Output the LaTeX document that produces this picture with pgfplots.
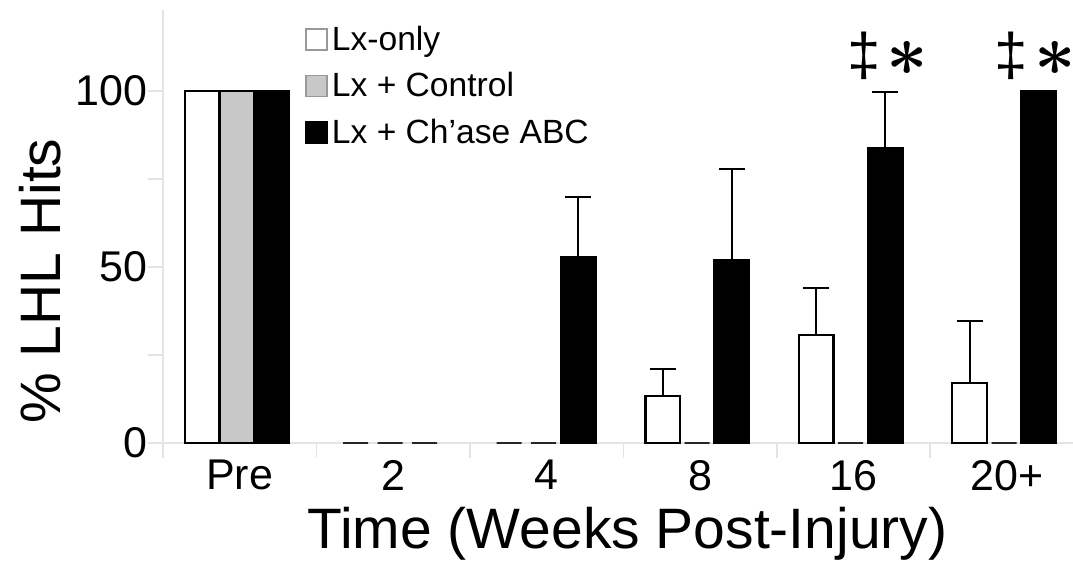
\documentclass[border=0pt]{standalone}
\usepackage{fontspec}
\setmainfont{Liberation Sans}
\usepackage{pgfplots}
\pgfplotsset{compat=1.18}
\definecolor{barg}{RGB}{200,200,200}
\definecolor{axg}{RGB}{228,228,228}
\begin{document}
\begin{tikzpicture}
\begin{axis}[
  scale only axis, width=455pt, height=216.5pt,
  xmin=-0.5, xmax=5.43, ymin=0, ymax=123,
  axis x line*=bottom, axis y line*=left,
  axis line style={draw=axg, line width=0.8pt, -},
  xtick pos=left, ytick pos=left,
  tick align=outside,
  major tick length=7.5pt, minor tick length=7.5pt,
  tick style={draw=axg, line width=0.8pt},
  xtick={-0.5,0.5,1.5,2.5,3.5,4.5},
  xticklabels={Pre,2,4,8,16,20+},
  xticklabel style={xshift=38.364pt, anchor=north, inner sep=0pt, yshift=-1pt,
    font=\fontsize{21.5}{21.5}\selectfont},
  ytick={0,50,100}, minor ytick={25,75},
  yticklabel style={anchor=east, inner sep=0pt, font=\fontsize{21.5}{21.5}\selectfont},
  /pgf/number format/assume math mode=true,
  xlabel={Time (Weeks Post-Injury)},
  xlabel style={at={(axis description cs:0.5104,-0.2425)}, anchor=base,
    font=\fontsize{28.5}{28.5}\selectfont},
  ylabel={\% LHL Hits},
  ylabel style={at={(axis description cs:-0.1121,0.374)}, anchor=base,
    font=\fontsize{28.5}{28.5}\selectfont},
  clip=false,
  legend style={at={(axis description cs:0.156,0.973)}, anchor=north west,
    draw=none, fill=none, inner sep=0pt, row sep=5.5pt,
    font=\fontsize{16.8}{16.8}\selectfont,
    /tikz/every even column/.append style={column sep=4.5pt}},
  legend cell align=left,
]
% zero-level dashes
\addplot[ybar, bar width=12.5pt, bar shift=-18.75pt, draw=black!85, line width=1pt, fill=none, forget plot]
  coordinates {(1,0) (2,0)};
\addplot[ybar, bar width=12.5pt, bar shift=-1.5pt, draw=black!85, line width=1pt, fill=none, forget plot]
  coordinates {(1,0) (2,0) (3,0) (4,0) (5,0)};
\addplot[ybar, bar width=12.5pt, bar shift=15.75pt, draw=black!85, line width=1pt, fill=none, forget plot]
  coordinates {(1,0)};
% Lx-only
\addplot[ybar, bar width=17.25pt, bar shift=-18.75pt, fill=white, draw=black, line width=1.2pt,
  error bars/.cd, y dir=plus, y explicit,
  error bar style={line width=1pt, black, xshift=-18.75pt},
  error mark options={rotate=90, mark size=6.5pt, line width=1pt, black},
  /pgfplots/.cd,
  legend image code/.code={\draw[fill=white, draw=black!40, line width=0.8pt] (0pt,-5.25pt) rectangle (10.5pt,5.25pt);}]
  coordinates {(0,100) +- (0,0) (3,13.4) +- (0,7.6) (4,30.7) +- (0,13.4) (5,17.1) +- (0,17.6)};
\addlegendentry{Lx-only}
% Lx + Control
\addplot[ybar, bar width=17.25pt, bar shift=-1.5pt, fill=barg, draw=black, line width=1.2pt,
  legend image code/.code={\draw[fill=barg, draw=black!40, line width=0.8pt] (0pt,-5.25pt) rectangle (10.5pt,5.25pt);}]
  coordinates {(0,100)};
\addlegendentry{Lx + Control}
% Lx + Ch'ase ABC
\addplot[ybar, bar width=17.25pt, bar shift=15.75pt, fill=black, draw=black, line width=1.2pt,
  error bars/.cd, y dir=plus, y explicit,
  error bar style={line width=1pt, black, xshift=15.75pt},
  error mark options={rotate=90, mark size=6.5pt, line width=1pt, black},
  /pgfplots/.cd,
  legend image code/.code={\draw[fill=black, draw=black, line width=0.8pt] (0pt,-5.25pt) rectangle (10.5pt,5.25pt);}]
  coordinates {(0,100) +- (0,0) (2,52.8) +- (0,17.1) (3,52.0) +- (0,25.8) (4,83.7) +- (0,16.1) (5,100) +- (0,0)};
\addlegendentry{Lx + Ch’ase ABC}
\node[font=\fontsize{30}{30}\selectfont, inner sep=0pt] at (axis cs:4.223,110)
  {‡\hspace{3pt}\scalebox{1.45}{\boldmath$\ast$}};
\node[font=\fontsize{30}{30}\selectfont, inner sep=0pt] at (axis cs:5.184,110)
  {‡\hspace{3pt}\scalebox{1.45}{\boldmath$\ast$}};
\end{axis}
\pgfresetboundingbox
\path[use as bounding box] (-81.5pt,-60pt) rectangle (455pt,221.5pt);
\end{tikzpicture}
\end{document}
